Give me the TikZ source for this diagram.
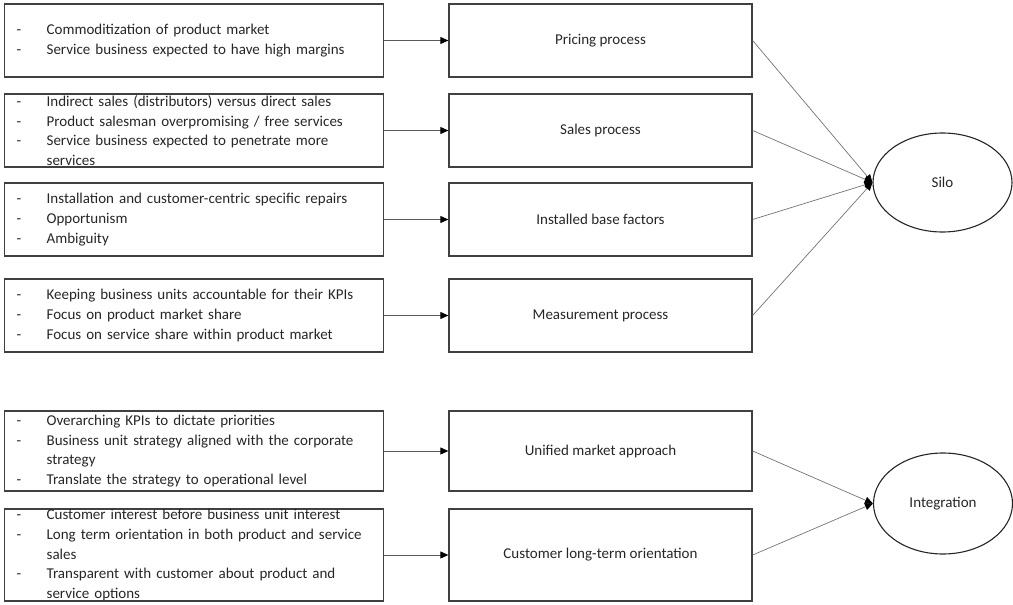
\documentclass[tikz,border=0pt]{standalone}
\usepackage{fontspec}
\setmainfont{Carlito}
\usetikzlibrary{arrows.meta,shapes.geometric}
\newcommand\li[1]{\makebox[30pt][l]{-}#1}
\newcommand\lc[1]{\hspace*{30pt}#1}
\tikzset{
  leftbox/.style={draw=black!75, line width=1.3pt, rectangle, text width=355pt, inner xsep=12pt, inner ysep=0pt, align=left, anchor=west},
  midbox/.style={draw=black!75, line width=1.3pt, rectangle, minimum width=303pt, inner sep=0pt, align=center},
  oval/.style={draw=black!85, line width=1.1pt, ellipse, minimum width=139pt, minimum height=99pt, inner sep=0pt},
  feed/.style={draw=black!65, line width=0.9pt, -{Triangle[length=8pt,width=7pt,color=black]}},
  conv/.style={draw=black!55, line width=0.7pt, -{Triangle[length=8pt,width=7pt,color=black]}},
}
\begin{document}
\begin{tikzpicture}[x=1pt,y=-1pt,font=\fontsize{15}{19.6}\selectfont,text=black!85]
\useasboundingbox (0,0) rectangle (1013,605);
% left boxes
\node[leftbox, minimum height=73pt] (l1) at (4,40.5) {\li{Commoditization of product market}\\\li{Service business expected to have high margins}};
\node[leftbox, minimum height=73pt] (l2) at (4,130.5) {\li{Indirect sales (distributors) versus direct sales}\\\li{Product salesman overpromising / free services}\\\li{Service business expected to penetrate more}\\\lc{services}};
\node[leftbox, minimum height=73pt] (l3) at (4,219.5) {\li{Installation and customer-centric specific repairs}\\\li{Opportunism}\\\li{Ambiguity}};
\node[leftbox, minimum height=73pt] (l4) at (4,315.5) {\li{Keeping business units accountable for their KPIs}\\\li{Focus on product market share}\\\li{Focus on service share within product market}};
\node[leftbox, minimum height=80pt] (l5) at (4,451) {\li{Overarching KPIs to dictate priorities}\\\li{Business unit strategy aligned with the corporate}\\\lc{strategy}\\\li{Translate the strategy to operational level}};
\node[leftbox, minimum height=92pt] (l6) at (4,555) {\li{Customer interest before business unit interest}\\\li{Long term orientation in both product and service}\\\lc{sales}\\\li{Transparent with customer about product and}\\\lc{service options}};
% middle boxes
\node[midbox, minimum height=73pt] (m1) at (600.5,40.5) {Pricing process};
\node[midbox, minimum height=73pt] (m2) at (600.5,130.5) {Sales process};
\node[midbox, minimum height=73pt] (m3) at (600.5,219.5) {Installed base factors};
\node[midbox, minimum height=73pt] (m4) at (600.5,315.5) {Measurement process};
\node[midbox, minimum height=80pt] (m5) at (600.5,451) {Unified market approach};
\node[midbox, minimum height=92pt] (m6) at (600.5,555) {Customer long-term orientation};
% ovals
\node[oval] (silo) at (942.5,182.5) {Silo};
\node[oval, minimum height=101pt] (integ) at (943,503.5) {Integration};
% connectors
\foreach \i in {1,...,6} {\draw[feed] (l\i.east) -- (m\i.west);}
\foreach \i in {1,...,4} {\draw[conv] (m\i.east) -- (silo.west);}
\foreach \i in {5,6} {\draw[conv] (m\i.east) -- (integ.west);}
\end{tikzpicture}
\end{document}
